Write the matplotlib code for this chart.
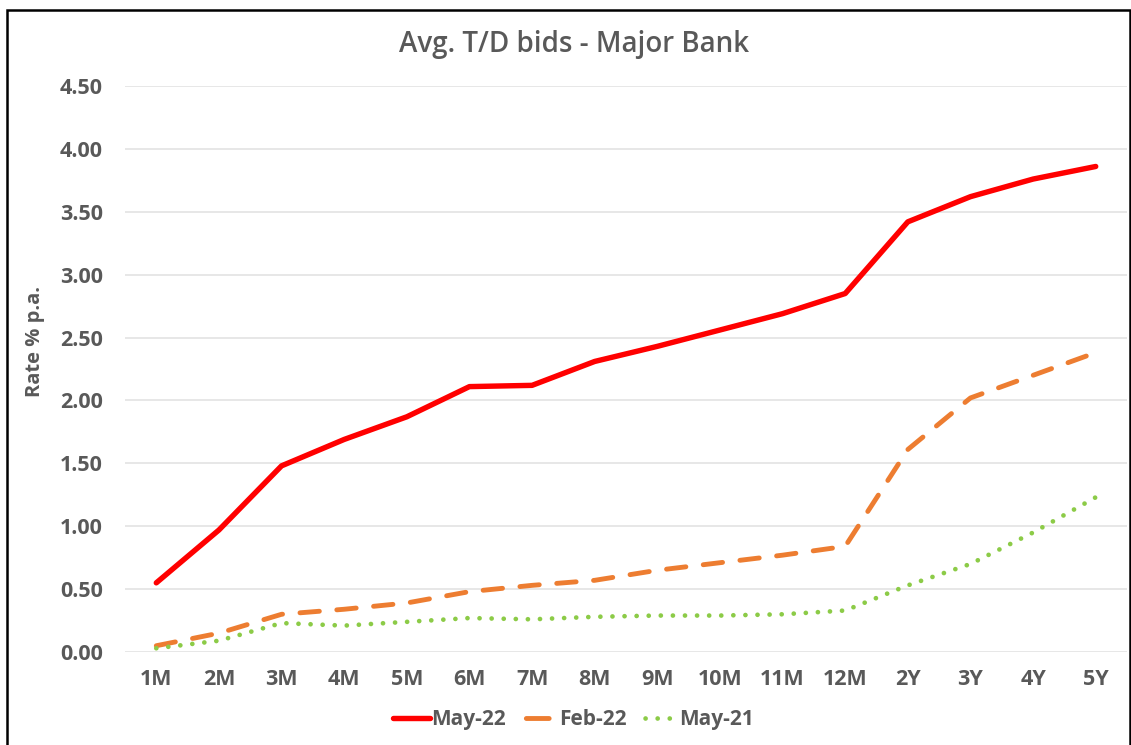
import matplotlib
matplotlib.use("Agg")
import matplotlib.pyplot as plt
import numpy as np
from matplotlib.patches import Rectangle
from matplotlib.lines import Line2D

plt.rcParams["font.family"] = ["Open Sans", "DejaVu Sans"]

tenors = ["1M", "2M", "3M", "4M", "5M", "6M", "7M", "8M", "9M", "10M", "11M", "12M",
          "2Y", "3Y", "4Y", "5Y"]
may_22 = [0.55, 0.97, 1.48, 1.69, 1.87, 2.11, 2.12, 2.31, 2.43, 2.56, 2.69, 2.85,
          3.42, 3.62, 3.76, 3.86]
feb_22 = [0.05, 0.15, 0.30, 0.34, 0.39, 0.48, 0.53, 0.57, 0.65, 0.71, 0.77, 0.84,
          1.61, 2.02, 2.20, 2.38]
may_21 = [0.03, 0.09, 0.23, 0.21, 0.24, 0.27, 0.26, 0.28, 0.29, 0.29, 0.30, 0.33,
          0.53, 0.70, 0.95, 1.23]
yticks = [0.0, 0.5, 1.0, 1.5, 2.0, 2.5, 3.0, 3.5, 4.0, 4.5]

TEXT = "#595959"
RED, ORANGE, GREEN = "#FF0000", "#ED7D31", "#8CCB47"

fig = plt.figure(figsize=(11.31, 7.45), dpi=100)
ax = fig.add_axes([0.1105, 0.1248, 0.886, 0.7598])

x = np.arange(len(tenors))
ax.plot(x, may_22, color=RED, lw=3.9, solid_joinstyle="round",
        solid_capstyle="round", zorder=3)
ax.plot(x, feb_22, color=ORANGE, lw=3.5, ls=(0, (4, 3.6)),
        dash_capstyle="round", dash_joinstyle="round", zorder=3)
ax.plot(x, may_21, color=GREEN, lw=3.4, ls=(0, (0.01, 2.55)),
        dash_capstyle="round", zorder=3)

ax.set_xlim(-0.5, len(tenors) - 0.5)
ax.set_ylim(0, 4.5)
ax.set_xticks(x)
ax.set_xticklabels(tenors)
ax.set_yticks(yticks)
ax.set_yticklabels([f"{v:.2f}" for v in yticks])
ax.tick_params(axis="both", length=0, labelsize=15.5, labelcolor=TEXT)
ax.tick_params(axis="x", pad=12)
ax.tick_params(axis="y", pad=16)
for lab in ax.get_xticklabels() + ax.get_yticklabels():
    lab.set_fontweight("bold")

ax.grid(axis="y", color="#E3E3E3", lw=1.2)
ax.set_axisbelow(True)
for s in ax.spines.values():
    s.set_visible(False)

fig.text(35 / 1131, (745 - 342) / 745, "Rate % p.a.", rotation=90, ha="center",
         va="center", fontsize=14.5, fontweight="bold", color=TEXT)

fig.text(0.508, 0.94, "Avg. T/D bids - Major Bank", ha="center", va="center",
         fontsize=20, fontweight=600, color=TEXT)

# legend keys: one centred dash for Feb-22, three dots for May-21
handles = [
    Line2D([], [], color=RED, lw=3.9, solid_capstyle="round"),
    Line2D([], [], color=ORANGE, lw=3.5, ls=(9.7, (4.7, 6.2)), dash_capstyle="round"),
    Line2D([], [], color=GREEN, lw=3.4, ls=(1.7, (0.01, 2.55)), dash_capstyle="round"),
]
fig.legend(handles, ["May-22", "Feb-22", "May-21"], loc="center",
           bbox_to_anchor=(0.507, 0.034), ncol=3, frameon=False,
           handlelength=1.8, handletextpad=0.05, columnspacing=0.7,
           prop={"size": 15, "weight": "bold"}, labelcolor=TEXT)

# outer frame
fig.patches.append(Rectangle((0.006, -0.01), 0.993, 0.997, transform=fig.transFigure,
                             fill=False, edgecolor="black", lw=1.8))

fig.savefig("out.png", dpi=100)
plt.close(fig)
